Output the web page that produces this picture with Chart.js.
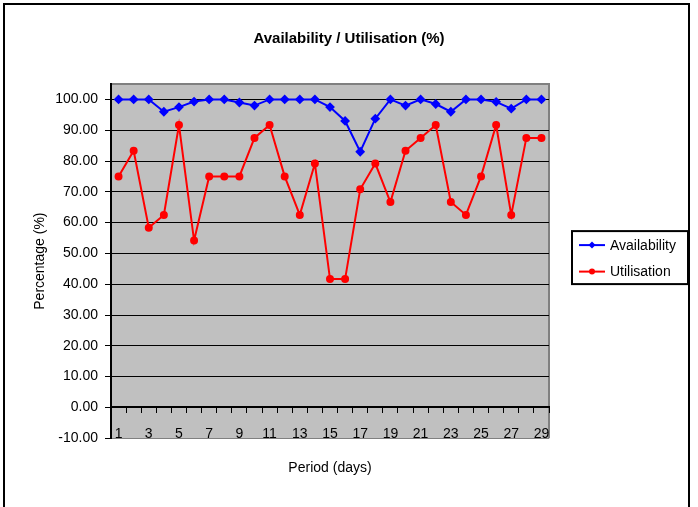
<!DOCTYPE html>
<html>
<head>
<meta charset="utf-8">
<script src="https://cdn.jsdelivr.net/npm/chart.js@4.4.1/dist/chart.umd.min.js"></script>
<style>
  html, body { margin: 0; padding: 0; background: #fff; }
  #wrap { position: relative; width: 698px; height: 507px; overflow: hidden; }
  #frame { position: absolute; left: 3px; top: 3px; width: 683px; height: 520px; border: 2px solid #000; }
  #chart { position: absolute; left: 0; top: 0; }
</style>
</head>
<body>
<div id="wrap">
  <div id="frame"></div>
  <canvas id="chart" width="698" height="507"></canvas>
</div>
<script>
// Daily figures for the period
const days = ['1','2','3','4','5','6','7','8','9','10','11','12','13','14','15',
              '16','17','18','19','20','21','22','23','24','25','26','27','28','29'];
const availability = [100, 100, 100, 96, 97.5, 99.3, 100, 100, 99, 98, 100, 100, 100, 100, 97.5,
                      93, 83, 93.75, 100, 98, 100, 98.5, 96, 100, 100, 99.2, 97, 100, 100];
const utilisation = [75, 83.33, 58.33, 62.5, 91.67, 54.17, 75, 75, 75, 87.5, 91.67, 75, 62.5, 79.17, 41.67,
                     41.67, 70.83, 79.17, 66.67, 83.33, 87.5, 91.67, 66.67, 62.5, 75, 91.67, 62.5, 87.5, 87.5];
const yTickValues = [-10, 0, 10, 20, 30, 40, 50, 60, 70, 80, 90, 100];

const FONT = "'Liberation Sans', Arial, sans-serif";

// grey plot area with a thin grey border on top/right
const plotArea = {
  id: 'plotArea',
  beforeDraw(chart) {
    const { ctx, chartArea: a } = chart;
    ctx.save();
    ctx.fillStyle = '#c0c0c0';
    ctx.fillRect(a.left, a.top, a.right - a.left, a.bottom - a.top);
    ctx.strokeStyle = '#808080';
    ctx.lineWidth = 2;
    ctx.beginPath();
    ctx.moveTo(a.left, a.top);
    ctx.lineTo(a.right, a.top);
    ctx.lineTo(a.right, a.bottom);
    ctx.stroke();
    ctx.restore();
  }
};

// boxed legend with line + marker swatches
const boxLegend = {
  id: 'boxLegend',
  afterDraw(chart) {
    const { ctx, chartArea: a } = chart;
    const left = a.right + 23, right = 688;
    const top = (a.top + a.bottom) / 2 - 30, h = 53;
    ctx.save();
    ctx.strokeStyle = '#000';
    ctx.lineWidth = 2;
    ctx.strokeRect(left, top, right - left, h);
    chart.data.datasets.forEach((ds, i) => {
      const y = top + 14 + i * 26.5;
      ctx.strokeStyle = ds.borderColor;
      ctx.lineWidth = 2;
      ctx.beginPath();
      ctx.moveTo(left + 7, y);
      ctx.lineTo(left + 33, y);
      ctx.stroke();
      ctx.fillStyle = ds.borderColor;
      ctx.beginPath();
      if (ds.pointStyle === 'rectRot') {
        ctx.moveTo(left + 20, y - 3.5);
        ctx.lineTo(left + 23.5, y);
        ctx.lineTo(left + 20, y + 3.5);
        ctx.lineTo(left + 16.5, y);
        ctx.closePath();
      } else {
        ctx.arc(left + 20, y, 3, 0, Math.PI * 2);
      }
      ctx.fill();
      ctx.fillStyle = '#000';
      ctx.font = '14px ' + FONT;
      ctx.textBaseline = 'middle';
      ctx.fillText(ds.label, left + 38, y + 1);
    });
    ctx.restore();
  }
};

new Chart(document.getElementById('chart'), {
  type: 'line',
  data: {
    labels: days,
    datasets: [
      {
        label: 'Availability',
        data: availability,
        borderColor: '#0000ff',
        backgroundColor: '#0000ff',
        borderWidth: 2,
        pointStyle: 'rectRot',
        pointRadius: 3.5,
        pointHoverRadius: 3.5,
        tension: 0
      },
      {
        label: 'Utilisation',
        data: utilisation,
        borderColor: '#ff0000',
        backgroundColor: '#ff0000',
        borderWidth: 2,
        pointStyle: 'circle',
        pointRadius: 3,
        pointHoverRadius: 3,
        tension: 0
      }
    ]
  },
  options: {
    responsive: false,
    animation: false,
    layout: { padding: 0 },
    plugins: {
      legend: { display: false },
      tooltip: { enabled: false },
      title: {
        display: true,
        text: 'Availability / Utilisation (%)',
        color: '#000',
        font: { family: FONT, size: 15, weight: 'bold' },
        padding: { top: 30, bottom: 36 }
      },
      subtitle: {
        display: true,
        position: 'bottom',
        fullSize: false,
        text: 'Period (days)',
        color: '#000',
        font: { family: FONT, size: 14 },
        padding: { top: 22, bottom: 30 }
      }
    },
    scales: {
      x: {
        type: 'category',
        position: { y: 0 },
        offset: true,
        grid: {
          offset: true,
          drawOnChartArea: false,
          drawTicks: true,
          tickLength: 5,
          color: '#000',
          lineWidth: 1
        },
        border: { display: true, color: '#000', width: 2 },
        ticks: {
          autoSkip: false,
          maxRotation: 0,
          color: '#000',
          padding: 13,
          font: { family: FONT, size: 14 },
          callback: (v, i) => (i % 2 === 0 ? days[i] : '')
        }
      },
      y: {
        min: -10,
        max: 105,
        afterBuildTicks: (scale) => {
          scale.ticks = yTickValues.map(v => ({ value: v }));
        },
        afterFit: (scale) => { scale.width = 111; },
        grid: {
          color: (c) => (c.tick && c.tick.value === -10 ? '#808080' : '#000'),
          lineWidth: 1,
          tickColor: '#000',
          tickLength: 6
        },
        border: { display: true, color: '#000', width: 2 },
        ticks: {
          color: '#000',
          padding: 7,
          font: { family: FONT, size: 14 },
          callback: (v) => Number(v).toFixed(2)
        },
        title: {
          display: true,
          text: 'Percentage (%)',
          color: '#000',
          font: { family: FONT, size: 14 },
          padding: { top: 32, bottom: 0 }
        }
      },
      // empty right-hand scale that reserves room for the legend box
      legendSpace: {
        axis: 'y',
        position: 'right',
        grid: { display: false },
        border: { display: false },
        ticks: { display: false },
        afterFit: (scale) => { scale.width = 149; }
      }
    }
  },
  plugins: [plotArea, boxLegend]
});
</script>
</body>
</html>
